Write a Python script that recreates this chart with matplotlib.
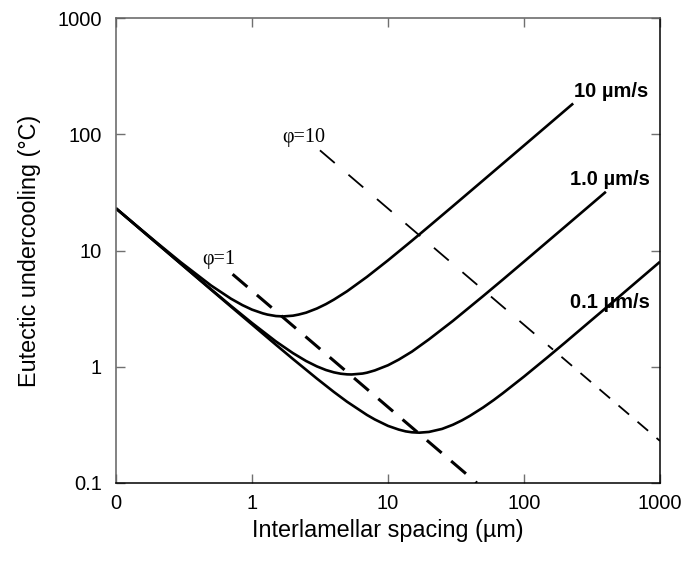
import matplotlib
matplotlib.use("Agg")
import matplotlib.pyplot as plt
from matplotlib.ticker import FixedLocator, FixedFormatter, NullLocator

# ---- data ----
lam_10 = [0.1, 0.15, 0.2, 0.3, 0.5, 0.7, 0.85, 1, 1.2, 1.3, 1.5, 1.7, 2, 2.2, 2.5,
          3, 3.5, 4, 5, 7, 10, 15, 20, 30, 50, 70, 100, 150, 230]
dT_10 = [23.08, 15.45, 11.66, 7.91, 5.0, 3.85, 3.39, 3.1, 2.88, 2.81, 2.73, 2.71,
         2.75, 2.81, 2.92, 3.17, 3.46, 3.78, 4.46, 5.93, 8.23, 12.15, 16.12,
         24.08, 40.05, 56.03, 80.02, 120.0, 184.0]

lam_1 = [0.1, 0.15, 0.2, 0.3, 0.5, 0.7, 1, 1.5, 2, 2.5, 3, 3.5, 4, 4.5, 5, 5.4,
         6.5, 7, 8, 10, 12, 15, 20, 30, 50, 70, 100, 150, 200, 300, 400]
dT_1 = [23.01, 15.35, 11.52, 7.69, 4.64, 3.34, 2.38, 1.65, 1.31, 1.12, 1.007,
        0.937, 0.895, 0.871, 0.86, 0.858, 0.874, 0.889, 0.93, 1.03, 1.152, 1.35,
        1.72, 2.48, 4.05, 5.63, 8.02, 12.02, 16.01, 24.0, 32.0]

lam_01 = [0.1, 0.15, 0.2, 0.3, 0.5, 0.7, 1, 1.5, 2, 3, 4, 5, 7, 8, 10, 12, 13.5,
          15, 17, 20, 25, 30, 35, 40, 50, 60, 70, 100, 150, 200, 300, 500, 700,
          1000]
dT_01 = [23.0, 15.33, 11.5, 7.67, 4.60, 3.29, 2.31, 1.545, 1.166, 0.791, 0.607,
         0.50, 0.385, 0.352, 0.31, 0.288, 0.278, 0.273, 0.271, 0.275, 0.292,
         0.317, 0.346, 0.378, 0.446, 0.518, 0.593, 0.823, 1.215, 1.61, 2.41, 4.0,
         5.6, 8.0]

phi1_lam = [0.72, 45]
phi1_dT = [6.25, 0.1]
phi10_upper_lam = [3.16, 150]
phi10_upper_dT = [72.7, 1.53]
phi10_lower_lam = [150, 1000]
phi10_lower_dT = [1.53, 0.23]

x_ticks = [0.1, 1, 10, 100, 1000]
x_ticklabels = ["0", "1", "10", "100", "1000"]
y_ticks = [0.1, 1, 10, 100, 1000]
y_ticklabels = ["0.1", "1", "10", "100", "1000"]

speed_labels = ["10 µm/s", "1.0 µm/s", "0.1 µm/s"]
phi_labels = ["φ=1", "φ=10"]

# ---- figure ----
fig = plt.figure(figsize=(6.85, 5.61), dpi=100)
ax = fig.add_axes([116/685, 1-483/561, (660-116)/685, (483-18)/561])
ax.set_xscale("log")
ax.set_yscale("log")
ax.set_xlim(0.1, 1000)
ax.set_ylim(0.1, 1000)

lw = 1.9
for lx, ly in [(lam_10, dT_10), (lam_1, dT_1), (lam_01, dT_01)]:
    ax.plot(lx, ly, color="black", lw=lw, solid_capstyle="butt",
            solid_joinstyle="round")

lw1 = 2.2
ax.plot(phi1_lam, phi1_dT, color="black", lw=lw1,
        linestyle=(0, (14.0/lw1, 9.0/lw1)), dash_capstyle="butt")
lw2 = 1.3
ax.plot(phi10_upper_lam, phi10_upper_dT, color="black", lw=lw2,
        linestyle=(0, (14.0/lw2, 13.0/lw2)), dash_capstyle="butt")
ax.plot(phi10_lower_lam, phi10_lower_dT, color="black", lw=lw2,
        linestyle=(4, (10.0/lw2, 8.0/lw2)), dash_capstyle="butt")

ax.xaxis.set_major_locator(FixedLocator(x_ticks))
ax.xaxis.set_major_formatter(FixedFormatter(x_ticklabels))
ax.xaxis.set_minor_locator(NullLocator())
ax.yaxis.set_major_locator(FixedLocator(y_ticks))
ax.yaxis.set_major_formatter(FixedFormatter(y_ticklabels))
ax.yaxis.set_minor_locator(NullLocator())

ax.tick_params(which="major", direction="in", length=6.5, width=1.0,
               color="#707070", top=True, right=True, labelsize=14.5)
ax.tick_params(axis="x", pad=8)
ax.tick_params(axis="y", pad=10)
for lab in ax.get_xticklabels() + ax.get_yticklabels():
    lab.set_fontfamily("Liberation Sans")

for side in ["left", "top"]:
    ax.spines[side].set_color("#606060")
    ax.spines[side].set_linewidth(1.1)
for side in ["bottom", "right"]:
    ax.spines[side].set_color("black")
    ax.spines[side].set_linewidth(1.1)

ax.set_xlabel("Interlamellar spacing (µm)", fontfamily="Liberation Sans",
              fontsize=16.8, labelpad=4)
ax.set_ylabel("Eutectic undercooling (°C)", fontfamily="Liberation Sans",
              fontsize=16.8, labelpad=12)

bold = dict(family="Liberation Sans", weight="bold", size=14.5)
ax.text(440, 231, speed_labels[0], ha="center", va="center", **bold)
ax.text(429, 41.2, speed_labels[1], ha="center", va="center", **bold)
ax.text(429, 3.6, speed_labels[2], ha="center", va="center", **bold)

serif = dict(family="Liberation Serif", size=14.5)
ax.text(0.57, 8.3, phi_labels[0], ha="center", va="center", **serif)
ax.text(2.4, 94.6, phi_labels[1], ha="center", va="center", **serif)

fig.savefig("out.png", dpi=100)
